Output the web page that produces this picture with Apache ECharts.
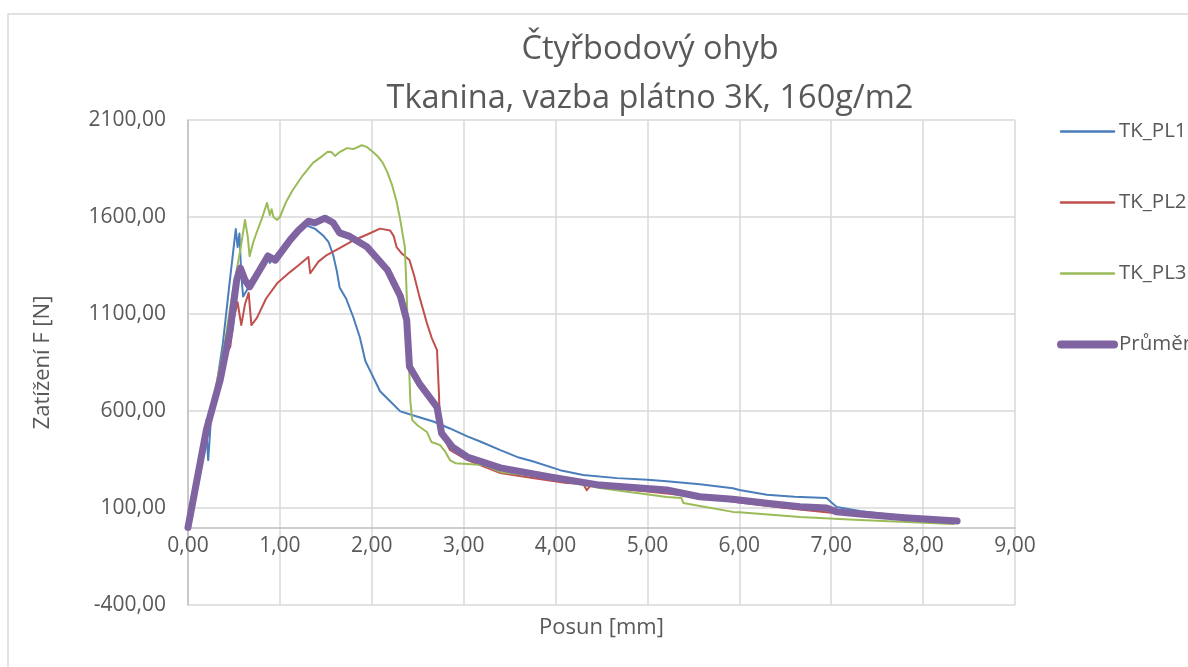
<!DOCTYPE html>
<html>
<head>
<meta charset="utf-8">
<script src="https://cdn.jsdelivr.net/npm/echarts@6/dist/echarts.min.js"></script>
<style>
  html, body { margin: 0; padding: 0; background: #fff; }
  #chart { width: 1188px; height: 667px; }
</style>
</head>
<body>
<div id="chart"></div>
<script>
// hodnoty (posun [mm], zatížení [N])
const pl1X = [0, 0.1, 0.18, 0.2, 0.21, 0.22, 0.25, 0.3, 0.38, 0.45, 0.52, 0.54, 0.56, 0.58, 0.6, 0.7, 0.8, 0.86, 0.89, 0.95, 1.05, 1.15, 1.29, 1.38, 1.47, 1.53, 1.58, 1.62, 1.65, 1.72, 1.8, 1.87, 1.93, 2.0, 2.09, 2.2, 2.31, 2.5, 2.67, 2.85, 3.04, 3.18, 3.4, 3.6, 3.75, 4.05, 4.3, 4.67, 5.0, 5.21, 5.57, 5.93, 6.0, 6.3, 6.6, 6.95, 7.0, 7.06, 7.31, 7.6, 8.0, 8.37]
const pl1Y = [0, 230, 430, 553, 420, 347, 560, 700, 950, 1250, 1538, 1445, 1515, 1300, 1190, 1270, 1340, 1400, 1363, 1400, 1460, 1510, 1556, 1540, 1505, 1470, 1404, 1320, 1237, 1180, 1082, 980, 858, 790, 702, 650, 598, 570, 546, 510, 469, 443, 398, 360, 341, 295, 270, 254, 245, 238, 222, 202, 193, 168, 158, 151, 130, 105, 84, 68, 48, 28]

const pl2X = [0, 0.1, 0.2, 0.3, 0.38, 0.46, 0.5, 0.54, 0.56, 0.58, 0.62, 0.66, 0.69, 0.75, 0.85, 0.97, 1.11, 1.2, 1.31, 1.33, 1.35, 1.42, 1.51, 1.65, 1.8, 1.95, 2.09, 2.2, 2.24, 2.27, 2.33, 2.41, 2.46, 2.52, 2.6, 2.65, 2.71, 2.73, 2.74, 2.76, 2.85, 3.04, 3.4, 3.75, 4.12, 4.3, 4.34, 4.38, 4.6, 5.0, 5.5, 6.0, 6.5, 7.0, 7.5, 8.0, 8.33]
const pl2Y = [0, 230, 480, 700, 870, 930, 1080, 1161, 1100, 1043, 1150, 1209, 1043, 1080, 1180, 1258, 1316, 1350, 1394, 1310, 1316, 1370, 1404, 1440, 1479, 1510, 1540, 1530, 1500, 1445, 1410, 1378, 1300, 1187, 1053, 980, 914, 700, 560, 480, 400, 347, 280, 255, 229, 225, 192, 215, 205, 185, 160, 128, 100, 76, 60, 45, 32]

const pl3X = [0, 0.1, 0.2, 0.3, 0.4, 0.48, 0.55, 0.58, 0.62, 0.65, 0.67, 0.71, 0.75, 0.8, 0.86, 0.89, 0.91, 0.93, 0.97, 1.0, 1.07, 1.14, 1.25, 1.36, 1.45, 1.52, 1.56, 1.6, 1.65, 1.73, 1.8, 1.89, 1.95, 2.01, 2.07, 2.12, 2.17, 2.22, 2.27, 2.31, 2.34, 2.36, 2.38, 2.4, 2.42, 2.44, 2.5, 2.6, 2.65, 2.74, 2.8, 2.85, 2.91, 3.21, 3.4, 3.94, 4.48, 5.21, 5.37, 5.39, 5.57, 5.93, 6.0, 6.66, 7.31, 8.33]
const pl3Y = [0, 230, 480, 720, 950, 1200, 1380, 1460, 1585, 1500, 1398, 1470, 1524, 1586, 1673, 1610, 1640, 1600, 1585, 1600, 1680, 1739, 1815, 1879, 1910, 1936, 1935, 1915, 1935, 1955, 1950, 1970, 1960, 1936, 1910, 1879, 1830, 1766, 1680, 1585, 1500, 1445, 1200, 900, 650, 553, 525, 492, 440, 425, 390, 347, 331, 322, 286, 255, 203, 157, 152, 126, 110, 80, 78, 54, 38, 18]

const avgX = [0, 0.2, 0.35, 0.46, 0.53, 0.57, 0.62, 0.67, 0.78, 0.87, 0.95, 1.11, 1.2, 1.31, 1.38, 1.49, 1.58, 1.65, 1.76, 1.95, 2.17, 2.31, 2.38, 2.41, 2.52, 2.71, 2.76, 2.88, 3.04, 3.4, 3.94, 4.48, 5.21, 5.57, 5.93, 6.3, 6.66, 6.95, 7.06, 7.31, 7.8, 8.37]
const avgY = [0, 502, 760, 1018, 1275, 1337, 1275, 1240, 1327, 1399, 1378, 1481, 1530, 1578, 1570, 1594, 1570, 1518, 1500, 1445, 1327, 1193, 1069, 830, 740, 620, 485, 414, 363, 307, 260, 218, 193, 158, 145, 125, 107, 100, 80, 69, 50, 33]

const seriesNames = ['TK_PL1', 'TK_PL2', 'TK_PL3', 'Průměr']
const seriesColors = ['#4a7ebb', '#c0504d', '#9bbb59', '#8064a2']
const xTicks = { min: 0, max: 9, step: 1 }
const yTicks = { min: -400, max: 2100, step: 500 }

const zip = (xs, ys) => xs.map((x, i) => [x, ys[i]])
const curves = [zip(pl1X, pl1Y), zip(pl2X, pl2Y), zip(pl3X, pl3Y), zip(avgX, avgY)]
const fmt = v => v.toFixed(2).replace('.', ',')
const font = '"Open Sans", "Noto Sans", sans-serif'
const textColor = '#595959'

// plot area in px, x axis sits on y = 0
const plotTop = 120, plotBottom = 605
const zeroOffset = (plotBottom - plotTop) * (0 - yTicks.min) / (yTicks.max - yTicks.min)

const chart = echarts.init(document.getElementById('chart'))
chart.setOption({
    backgroundColor: '#fff',
    animation: false,
    graphic: [{
        type: 'rect',
        shape: { x: 8, y: 14, width: 1200, height: 700 },
        style: { fill: 'none', stroke: '#d9d9d9', lineWidth: 1.5 },
        silent: true
    }],
    title: {
        text: 'Čtyřbodový ohyb\nTkanina, vazba plátno 3K, 160g/m2',
        left: 645,
        top: 20,
        textAlign: 'center',
        textStyle: {
            fontFamily: font,
            fontSize: 32.5,
            fontWeight: 'normal',
            color: textColor,
            lineHeight: 49
        }
    },
    legend: {
        orient: 'vertical',
        left: 1052,
        top: 116,
        itemWidth: 53,
        itemHeight: 20,
        itemGap: 50,
        itemStyle: { opacity: 0 },
        data: seriesNames.map((n, i) => ({
            name: n,
            lineStyle: { width: i === 3 ? 8 : 2.5, cap: 'round' }
        })),
        textStyle: { fontFamily: font, fontSize: 20.5, color: textColor }
    },
    grid: { left: 188, right: 173, top: plotTop, bottom: 667 - plotBottom, outerBoundsMode: 'none' },
    xAxis: {
        type: 'value',
        min: xTicks.min,
        max: xTicks.max,
        interval: xTicks.step,
        offset: -zeroOffset,
        name: 'Posun [mm]',
        nameLocation: 'middle',
        nameGap: 89,
        nameTextStyle: { fontFamily: font, fontSize: 22, color: textColor },
        axisLine: { onZero: false, lineStyle: { color: '#bfbfbf', width: 1.5 } },
        axisTick: { show: false },
        axisLabel: { formatter: fmt, margin: 8, fontFamily: font, fontSize: 21, color: textColor },
        splitLine: { show: true, lineStyle: { color: '#d9d9d9', width: 1.5 } }
    },
    yAxis: {
        type: 'value',
        min: yTicks.min,
        max: yTicks.max,
        interval: yTicks.step,
        name: 'Zatížení F [N]',
        nameLocation: 'middle',
        nameGap: 134,
        nameTextStyle: { fontFamily: font, fontSize: 22, color: textColor },
        axisLine: { show: true, onZero: false, lineStyle: { color: '#bfbfbf', width: 1.5 } },
        axisTick: { show: false },
        axisLabel: { formatter: fmt, margin: 22, fontFamily: font, fontSize: 21, color: textColor },
        splitLine: { show: true, lineStyle: { color: '#d9d9d9', width: 1.5 } }
    },
    series: curves.map((d, i) => ({
        name: seriesNames[i],
        type: 'line',
        data: d,
        symbol: 'none',
        color: seriesColors[i],
        z: i === 3 ? 5 : 3,
        lineStyle: { width: i === 3 ? 7 : 2, cap: 'round', join: 'round' }
    }))
})
</script>
</body>
</html>
